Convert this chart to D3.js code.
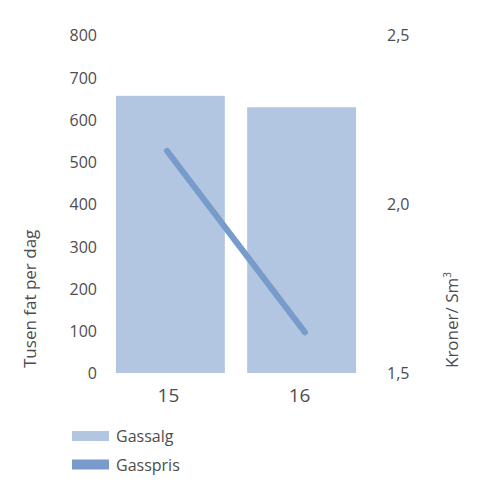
<!DOCTYPE html>
<html>
<head>
<meta charset="utf-8">
<script src="https://cdn.jsdelivr.net/npm/d3@7"></script>
<style>
body{margin:0;background:#fff;}
text{font-family:"Open Sans","DejaVu Sans",sans-serif;fill:#4d4d4d;}
</style>
</head>
<body>
<div id="chart"></div>
<script>
// data
var years = ["15", "16"];
var gassalg = [656, 629];      // tusen fat per dag
var gasspris = [2.157, 1.62];  // kroner/Sm3
var leftTicks = [0,100,200,300,400,500,600,700,800];
var rightTicks = [1.5, 2.0, 2.5];

var W = 500, H = 500;
var svg = d3.select("#chart").append("svg").attr("width",W).attr("height",H);

var top_ = 35, bottom = 373, left = 116, right = 356;

var x = d3.scaleBand().domain(years).range([left,right]).paddingInner(0.17).paddingOuter(0);
var xLine = d3.scalePoint().domain(years).range([left,right]).padding(0.37);
var yL = d3.scaleLinear().domain([0,800]).range([bottom,top_]);
var yR = d3.scaleLinear().domain([1.5,2.5]).range([bottom,top_]);

// bars
svg.selectAll(".bar").data(years).enter().append("rect")
	.attr("x", function(d){ return x(d); })
	.attr("y", function(d,i){ return yL(gassalg[i]); })
	.attr("width", x.bandwidth())
	.attr("height", function(d,i){ return bottom - yL(gassalg[i]); })
	.attr("fill","#b3c6e1");

// price line
var line = d3.line()
	.x(function(d,i){ return xLine(years[i]); })
	.y(function(d){ return yR(d); });
svg.append("path").datum(gasspris)
	.attr("d", line)
	.attr("fill","none")
	.attr("stroke","#779bca")
	.attr("stroke-width",6)
	.attr("stroke-linecap","round");

// left axis
var axL = d3.axisLeft(yL).tickValues(leftTicks).tickSize(0).tickPadding(0);
var gL = svg.append("g").attr("transform","translate(97,0)").call(axL);
gL.select(".domain").remove();
gL.selectAll("text").style("font-size","16px").attr("dy","0.36em");

// right axis
var fmt = function(d){ return d3.format(".1f")(d).replace(".", ","); };
var axR = d3.axisRight(yR).tickValues(rightTicks).tickFormat(fmt).tickSize(0).tickPadding(0);
var gR = svg.append("g").attr("transform","translate(387,0)").call(axR);
gR.select(".domain").remove();
gR.selectAll("text").style("font-size","16px").attr("dy","0.36em");

// x axis
var axX = d3.axisBottom(x).tickSize(0).tickPadding(0);
var gX = svg.append("g").attr("transform","translate(-2,"+(bottom+15)+")").call(axX);
gX.select(".domain").remove();
gX.selectAll("text").style("font-size","19px").attr("dy","0.71em");

// axis titles
svg.append("text")
	.attr("transform","translate(36,368) rotate(-90)")
	.style("font-size","17px")
	.text("Tusen fat per dag");
svg.append("text")
	.attr("transform","translate(458,368) rotate(-90)")
	.style("font-size","17px")
	.html("Kroner/ Sm<tspan dy='-7' style='font-size:10px'>3</tspan>");

// legend
var legend = [{name:"Gassalg", color:"#b3c6e1"},{name:"Gasspris", color:"#779bca"}];
var lg = svg.selectAll(".lg").data(legend).enter().append("g")
	.attr("transform", function(d,i){ return "translate(72,"+(431+i*28.5)+")"; });
lg.append("rect").attr("width",37).attr("height",10).attr("fill",function(d){ return d.color; });
lg.append("text").attr("x",44).attr("y",11).style("font-size","16px").text(function(d){ return d.name; });
</script>
</body>
</html>
